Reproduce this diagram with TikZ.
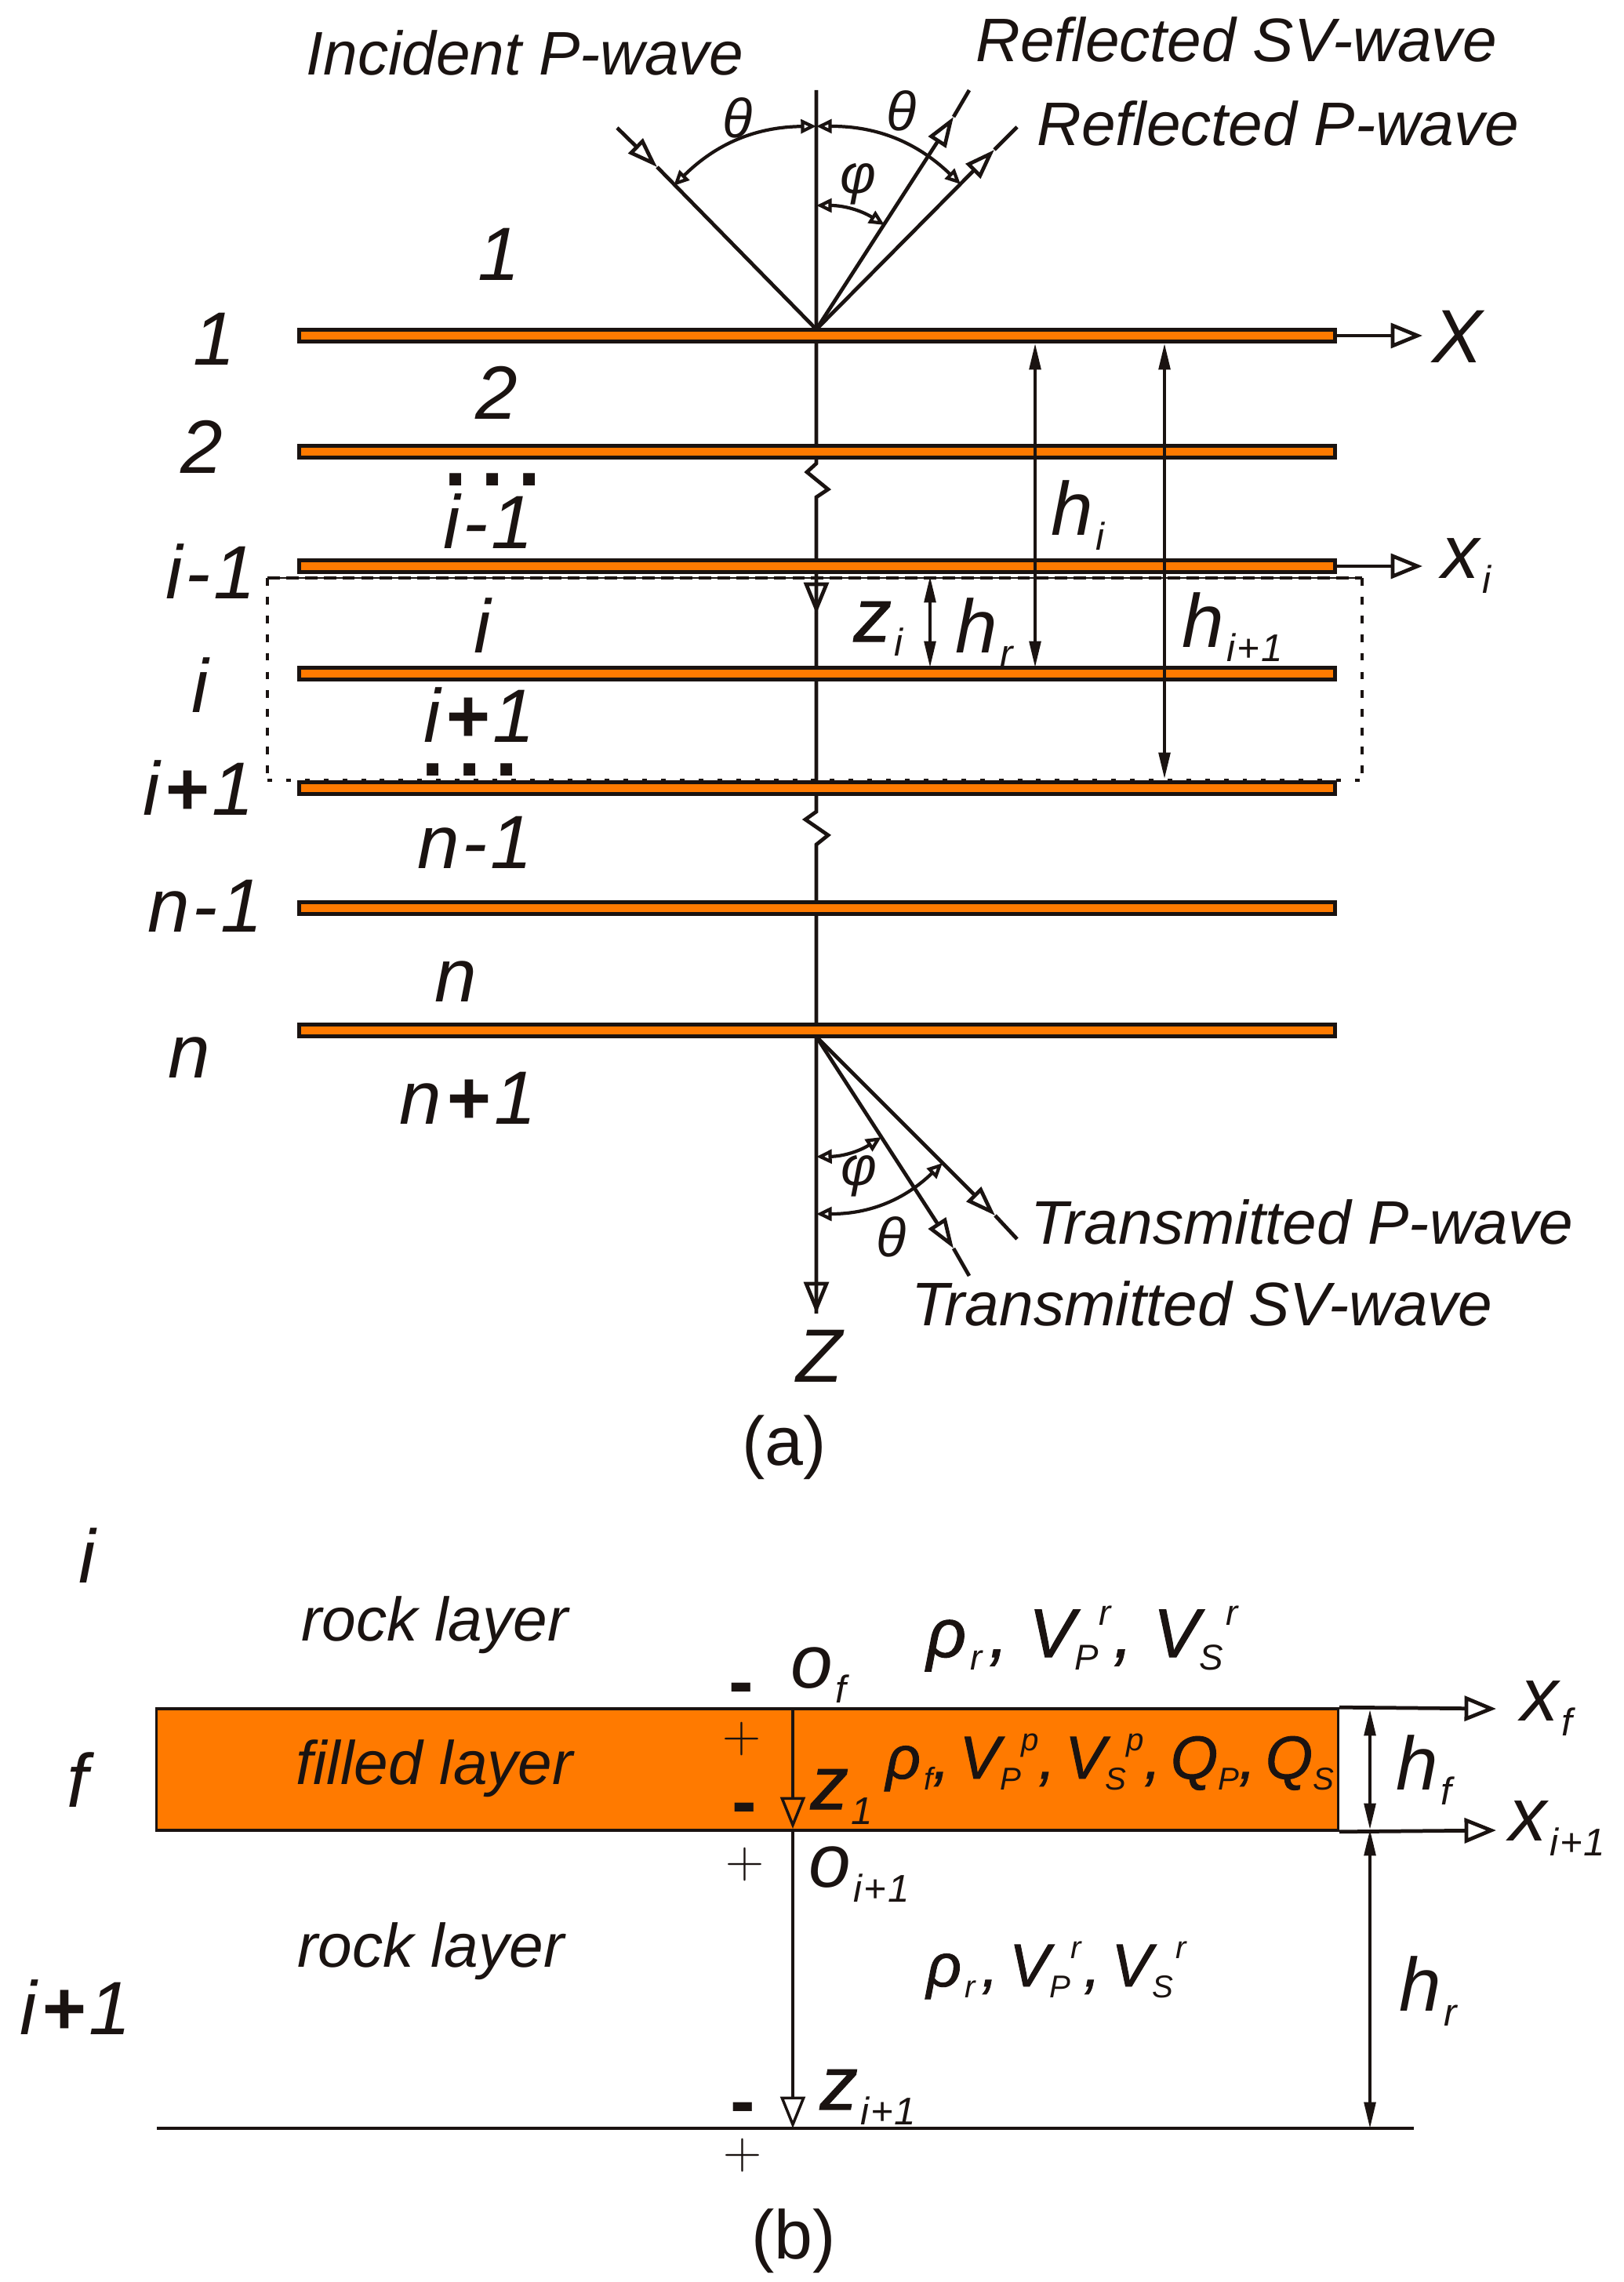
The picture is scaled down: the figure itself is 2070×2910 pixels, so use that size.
\documentclass[tikz,border=0pt]{standalone}
\usepackage{fontspec}
\setmainfont{Liberation Sans}
\newfontfamily\heavyit{Liberation Sans}[ItalicFeatures={FakeBold=1.2}]
\usetikzlibrary{arrows.meta}
\definecolor{inkdark}{HTML}{1A1311}
\definecolor{layerorange}{HTML}{FF7A00}
\newcommand{\lowtxt}[1]{\kern1pt\raisebox{-5.4pt}{\fontsize{14}{14}\selectfont #1}}
\newcommand{\midlow}[1]{\raisebox{-4.8pt}{\normalfont\itshape\fontsize{13}{13}\selectfont #1}}
\newcommand{\midup}[1]{\raisebox{11.5pt}{\normalfont\itshape\fontsize{13}{13}\selectfont #1}}
\newcommand{\rockprops}[1]{ρ\kern1.5pt\midlow{r}\kern2.5pt,\kern#1 V\midlow{P}\midup{r}\kern1pt,\kern#1 V\midlow{S}\kern1pt\midup{r}}
\newcommand{\dotrowtxt}{.\kern5pt.\kern5pt.}
\newcommand{\plustxt}[2]{#1\kern1.5pt{\bfseries +}\kern1.5pt #2}
\newcommand{\minustxt}[2]{#1\kern1pt-\kern1pt #2}
\newcommand{\subplus}{i\kern.5pt+\kern.5pt 1}
\tikzset{
  bigtxt/.style={font=\fontsize{27.4}{30}\selectfont\itshape, inner sep=0pt, anchor=base west, text=inkdark},
  wavetxt/.style={font=\fontsize{22.3}{24}\selectfont\itshape, inner sep=0pt, anchor=base west, text=inkdark},
  proptxt/.style={font=\fontsize{25}{28}\selectfont\heavyit\itshape, inner sep=0pt, anchor=base west, text=inkdark},
  angletxt/.style={font=\fontsize{20}{22}\selectfont\itshape, inner sep=0pt, text=inkdark},
  plaintxt/.style={font=\fontsize{25}{28}\selectfont, inner sep=0pt, anchor=base, text=inkdark},
  plussign/.style={font=\LARGE, scale=1.12, inner sep=0pt, text=inkdark},
  minussign/.style={font=\fontsize{27}{30}\selectfont\bfseries, inner sep=0pt, text=inkdark},
  dotrow/.style={font=\fontsize{30}{32}\selectfont\bfseries, inner sep=0pt, anchor=base, text=inkdark},
  layerbar/.style={draw=inkdark, fill=layerorange, line width=1.3pt, inner sep=0pt, minimum width=13.2cm, minimum height=0.155cm},
  filledbar/.style={draw=inkdark, fill=layerorange, line width=1pt, inner sep=0pt, minimum width=15.06cm, minimum height=1.55cm},
  axisline/.style={draw=inkdark, line width=1.35pt},
  thinline/.style={draw=inkdark, line width=1pt},
  opentip/.style={-{Triangle[open, length=11.5pt, width=9pt]}},
  rayhead/.style={draw=inkdark, line width=1.35pt, -{Triangle[open, length=11pt, width=7.4pt]}},
  arcarrow/.style={draw=inkdark, line width=1.2pt, {Triangle[open, length=5.6pt, width=5pt]}-{Triangle[open, length=5.6pt, width=5pt]}},
  heightarrow/.style={draw=inkdark, fill=inkdark, line width=1pt, {Triangle[length=9.5pt, width=4.2pt]}-{Triangle[length=9.5pt, width=4.2pt]}},
  boxdash/.style={draw=inkdark, line width=1.3pt, dash pattern=on 2.8pt off 4pt},
  boxtopdash/.style={draw=inkdark, line width=1.3pt, dash pattern=on 4.5pt off 2.3pt},
  boxdot/.style={draw=inkdark, line width=1.3pt, dash pattern=on 1.7pt off 5.1pt}
}
\begin{document}
\begin{tikzpicture}[x=0.01cm, y=-0.01cm]
  \useasboundingbox (0,0) rectangle (2070,2910);

  \coordinate (axistop) at (1041,115);
  \coordinate (breakAa) at (1041,591);
  \coordinate (breakAb) at (1029,602);
  \coordinate (breakAc) at (1056,624);
  \coordinate (breakAd) at (1041,634);
  \coordinate (ziTip) at (1041,783);
  \coordinate (breakBa) at (1041,1035);
  \coordinate (breakBb) at (1027,1045);
  \coordinate (breakBc) at (1056,1065);
  \coordinate (breakBd) at (1041,1077);
  \coordinate (Zend) at (1041,1675);

  \draw[axisline] (axistop) -- (breakAa) -- (breakAb) -- (breakAc) -- (breakAd) -- (ziTip);
  \draw[axisline, opentip] (breakAd) -- (ziTip);
  \draw[axisline] (ziTip) -- (breakBa) -- (breakBb) -- (breakBc) -- (breakBd) -- (Zend);
  \draw[axisline, opentip] (breakBd) -- (Zend);

  \foreach \layername/\ypos in {LA/428, LB/576, LC/722, LD/859, LE/1005, LF/1158, LG/1314}
    \node[layerbar] (\layername) at (1042,\ypos) {};

  % upper rays
  \coordinate (srcA) at (1041,420);
  \coordinate (incEnd) at (787,163);
  \coordinate (incTip) at (838,213);
  \coordinate (svEnd) at (1236,115);
  \coordinate (svTip) at (1216,149);
  \coordinate (rpEnd) at (1297,162);
  \coordinate (rpTip) at (1268,191);
  \draw[rayhead] (incEnd) -- (incTip);
  \draw[axisline] (incTip) -- (srcA);
  \draw[rayhead] (srcA) -- (svTip);
  \draw[axisline] (svTip) -- (svEnd);
  \draw[rayhead] (srcA) -- (rpTip);
  \draw[axisline] (rpTip) -- (rpEnd);

  \coordinate (arcTop) at (1041,161);
  \coordinate (arcInc) at (859,237);
  \coordinate (arcRp) at (1225,235);
  \coordinate (arcPhiA) at (1041,262);
  \coordinate (arcPhiB) at (1128,287);
  \draw[arcarrow] (arcTop) to[bend right=22] (arcInc);
  \draw[arcarrow] (arcTop) to[bend left=22] (arcRp);
  \draw[arcarrow] (arcPhiA) to[bend left=16] (arcPhiB);

  \node[angletxt] (thetaA) at (941,150) {θ};
  \node[angletxt] (thetaB) at (1150,141) {θ};
  \node[angletxt] (phiA) at (1094,235) {φ};

  % lower rays
  \coordinate (srcB) at (1041,1322);
  \coordinate (tpEnd) at (1297,1580);
  \coordinate (tpTip) at (1269,1550);
  \coordinate (tsEnd) at (1236,1627);
  \coordinate (tsTip) at (1216,1592);
  \draw[rayhead] (srcB) -- (tpTip);
  \draw[axisline] (tpTip) -- (tpEnd);
  \draw[rayhead] (srcB) -- (tsTip);
  \draw[axisline] (tsTip) -- (tsEnd);

  \coordinate (arcLowA) at (1041,1475);
  \coordinate (arcLowB) at (1124,1450);
  \coordinate (arcLowC) at (1041,1548);
  \coordinate (arcLowD) at (1202,1483);
  \draw[arcarrow] (arcLowA) to[bend right=16] (arcLowB);
  \draw[arcarrow] (arcLowC) to[bend right=22] (arcLowD);

  \node[angletxt] (phiB) at (1095,1500) {φ};
  \node[angletxt] (thetaC) at (1137,1577) {θ};

  \node[wavetxt] (incident) at (390,96) {Incident P-wave};
  \node[wavetxt] (reflSV) at (1244,79) {Reflected SV-wave};
  \node[wavetxt] (reflP) at (1322,186) {Reflected P-wave};
  \node[wavetxt] (transP) at (1314,1586) {Transmitted P-wave};
  \node[wavetxt] (transSV) at (1162,1690) {Transmitted SV-wave};

  % horizontal axes
  \coordinate (XEnd) at (1814,428);
  \coordinate (xiEnd) at (1814,722);
  \draw[axisline, opentip] (LA.east) -- (XEnd);
  \draw[axisline, opentip] (LC.east) -- (xiEnd);
  \node[bigtxt] (Xlab) at (1826,463) {X};
  \node[bigtxt] (xilab) at (1838,738) {x\lowtxt{i}};
  \node[bigtxt, anchor=base] (Zlab) at (1045,1762) {Z};

  % dashed box
  \coordinate (boxTL) at (341,737);
  \coordinate (boxTR) at (1737,737);
  \coordinate (boxBL) at (341,995);
  \coordinate (boxBR) at (1737,995);
  \draw[inkdark, line width=0.4pt] (boxTL) -- (boxTR);
  \draw[boxtopdash] (boxTL) -- (boxTR);
  \draw[boxdash] (boxTL) -- (boxBL);
  \draw[boxdash] (boxTR) -- (boxBR);
  \draw[boxdot] (boxBL) -- (boxBR);

  % height arrows
  \coordinate (hiTop) at (1320,438);
  \coordinate (hiBot) at (1320,851);
  \coordinate (hnTop) at (1485,438);
  \coordinate (hnBot) at (1485,993);
  \coordinate (hrTop) at (1186,735);
  \coordinate (hrBot) at (1186,851);
  \draw[heightarrow] (hiTop) -- (hiBot);
  \draw[heightarrow] (hnTop) -- (hnBot);
  \draw[heightarrow] (hrTop) -- (hrBot);

  \node[bigtxt] (zilab) at (1088,818) {{\heavyit\itshape z}\lowtxt{i}};
  \node[bigtxt] (hrlab) at (1218,832) {h\lowtxt{r}};
  \node[bigtxt] (hilab) at (1340,683) {h\lowtxt{i}};
  \node[bigtxt] (hnlab) at (1507,825) {h\lowtxt{\subplus}};

  % layer numbers
  \node[bigtxt, anchor=base] (innerA) at (636,358) {1};
  \node[bigtxt, anchor=base] (outerA) at (273,466) {1};
  \node[bigtxt, anchor=base] (innerB) at (633,535) {2};
  \node[bigtxt, anchor=base] (outerB) at (257,604) {2};
  \node[dotrow] (dotsA) at (628,620) {\dotrowtxt};
  \node[bigtxt] (innerC) at (565,699) {\minustxt{i}{1}};
  \node[bigtxt] (outerC) at (211,764) {\minustxt{i}{1}};
  \node[bigtxt] (innerD) at (604,833) {i};
  \node[bigtxt] (outerD) at (244,908) {i};
  \node[bigtxt] (innerE) at (540,946) {\plustxt{i}{1}};
  \node[dotrow] (dotsB) at (599,989) {\dotrowtxt};
  \node[bigtxt] (outerE) at (182,1039) {\plustxt{i}{1}};
  \node[bigtxt] (innerF) at (532,1107) {\minustxt{n}{1}};
  \node[bigtxt] (outerF) at (188,1188) {\minustxt{n}{1}};
  \node[bigtxt] (innerG) at (554,1277) {n};
  \node[bigtxt] (outerG) at (214,1374) {n};
  \node[bigtxt] (innerH) at (509,1433) {\plustxt{n}{1}};
  \node[plaintxt] (capa) at (1000,1868) {(a)};

  % lower panel
  \node[filledbar] (filled) at (953,2256.5) {};
  \coordinate (topaxis) at (1011,2180);
  \coordinate (zoneTip) at (1011,2332);
  \coordinate (ztwoTip) at (1011,2714);
  \coordinate (baseL) at (200,2714);
  \coordinate (baseR) at (1803,2714);
  \coordinate (xfEnd) at (1908,2179);
  \coordinate (xnEnd) at (1908,2334);
  \coordinate (hfTop) at (1747,2180);
  \coordinate (hfBot) at (1747,2333);
  \coordinate (hbBot) at (1747,2714);
  \draw[thinline, opentip] (topaxis) -- (zoneTip);
  \draw[thinline, opentip] (zoneTip) -- (ztwoTip);
  \draw[thinline] (baseL) -- (baseR);
  \draw[axisline, opentip] (filled.north east) -- (xfEnd);
  \draw[axisline, opentip] (filled.south east) -- (xnEnd);
  \draw[heightarrow] (hfTop) -- (hfBot);
  \draw[heightarrow] (hfBot) -- (hbBot);

  \node[bigtxt] (panelI) at (100,2018) {i};
  \node[wavetxt] (rockA) at (384,2092) {rock layer};
  \node[wavetxt] (fillLab) at (377,2275) {filled layer};
  \node[wavetxt] (rockB) at (379,2508) {rock layer};
  \node[bigtxt] (panelF) at (85,2304) {f};
  \node[bigtxt] (panelN) at (25,2594) {\plustxt{i}{1}};

  \node[proptxt] (propsA) at (1181,2113) {\rockprops{7.5pt}};
  \node[proptxt, scale=0.88] (propsB) at (1181,2533) {\rockprops{4.5pt}};
  \node[proptxt, scale=0.88] (propsC) at (1129,2268) {ρ\kern1.5pt\midlow{f},\kern4pt V\midlow{P}\midup{p},\kern4pt V\midlow{S}\midup{p},\kern4pt Q\midlow{P},\kern4pt Q\midlow{S}};

  \node[bigtxt] (ofLab) at (1008,2152) {o\lowtxt{f}};
  \node[bigtxt] (onLab) at (1031,2406) {o\lowtxt{\subplus}};
  \node[bigtxt] (zoneLab) at (1033,2307) {{\heavyit\itshape z}\lowtxt{1}};
  \node[bigtxt] (ztwoLab) at (1045,2690) {{\heavyit\itshape z}\lowtxt{\subplus}};
  \node[bigtxt] (xfLab) at (1939,2194) {x\lowtxt{f}};
  \node[bigtxt] (xnLab) at (1924,2347) {x\lowtxt{\subplus}};
  \node[bigtxt] (hfLab) at (1780,2282) {h\lowtxt{f}};
  \node[bigtxt] (hbLab) at (1784,2564) {h\lowtxt{r}};

  \node[minussign] (minusA) at (945,2161) {-};
  \node[plussign] (plusA) at (946,2217) {$+$};
  \node[minussign] (minusB) at (949,2314) {-};
  \node[plussign] (plusB) at (950,2377) {$+$};
  \node[minussign] (minusC) at (947,2696) {-};
  \node[plussign] (plusC) at (947,2748) {$+$};
  \node[plaintxt] (capb) at (1012,2880) {(b)};
\end{tikzpicture}
\end{document}
